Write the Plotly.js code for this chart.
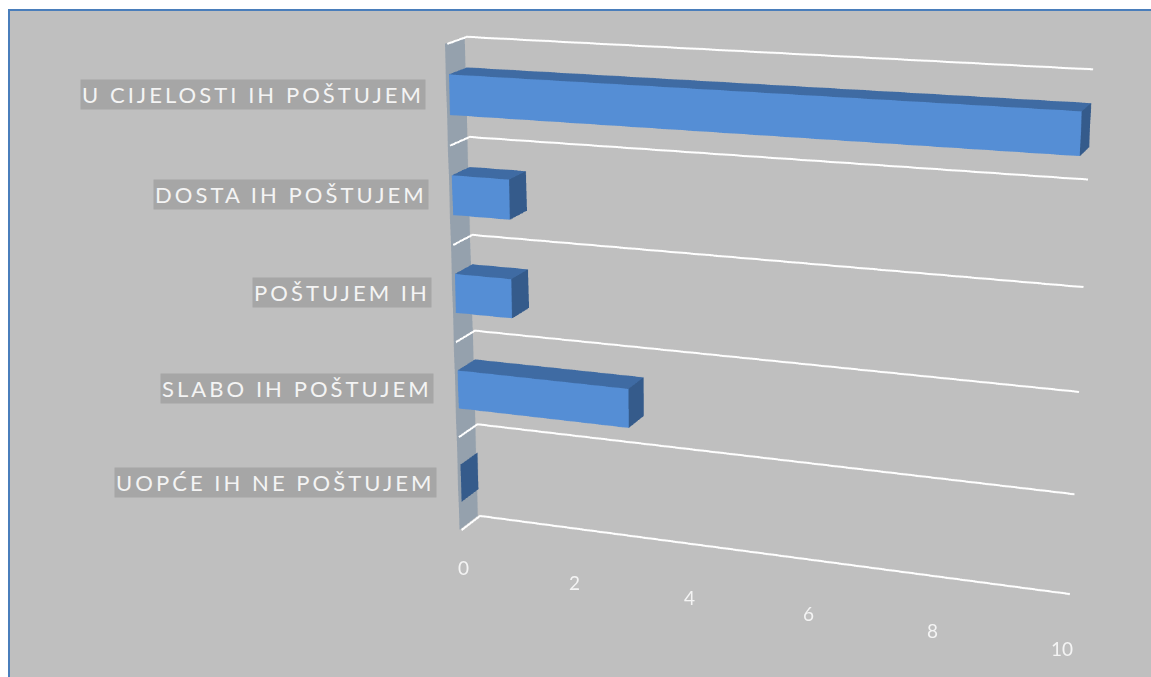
<!DOCTYPE html>
<html><head><meta charset="utf-8">
<script src="https://cdn.plot.ly/plotly-3.0.1.min.js"></script>
<style>
html,body{margin:0;padding:0;width:1151px;height:677px;overflow:hidden;background:#fff}
#bg{position:absolute;left:8px;top:9px;right:-2px;bottom:-2px;background:#bfbfbf;border:2px solid #4a7ebb;box-sizing:border-box}
#chart{position:absolute;left:-1151px;top:-677px;width:3453px;height:2031px}
.annotation-text{letter-spacing:3.05px}
</style></head><body>
<div id="bg"></div><div id="chart"></div>
<script>
var categories=["UOPĆE IH NE POŠTUJEM","SLABO IH POŠTUJEM","POŠTUJEM IH","DOSTA IH POŠTUJEM","U CIJELOSTI IH POŠTUJEM"];
var values=[0,3,1,1,10];
var valueTicks=[0,2,4,6,8,10];
var barLow=0.3,barHigh=0.7,depthLow=0.04,depthHigh=0.96;
var FRONT='#558ed5',TOP='#3f6ba3',END='#355b8b',WALL='#95a1ad',GRID='#ffffff',TEXT='#f4f4f4',LABELBG='#a6a6a6';

function box(x0,x1,y0,y1,z0,z1){
  var X=[],Y=[],Z=[],I=[],J=[],K=[],C=[];
  function quad(p,col){var n=X.length;p.forEach(function(q){X.push(q[0]);Y.push(q[1]);Z.push(q[2]);});
    I.push(n,n);J.push(n+1,n+2);K.push(n+2,n+3);C.push(col,col);}
  if(x1>x0){
    quad([[x0,y0,z0],[x1,y0,z0],[x1,y0,z1],[x0,y0,z1]],FRONT);
    quad([[x0,y0,z1],[x1,y0,z1],[x1,y1,z1],[x0,y1,z1]],TOP);
  }
  quad([[x1,y0,z0],[x1,y1,z0],[x1,y1,z1],[x1,y0,z1]],END);
  return {type:'mesh3d',x:X,y:Y,z:Z,i:I,j:J,k:K,facecolor:C,flatshading:true,hoverinfo:'skip',showscale:false,
    lighting:{ambient:1,diffuse:0,specular:0,fresnel:0,roughness:1},lightposition:{x:0,y:0,z:1000}};
}
var traces=[];
var wall=box(-0.04,-0.04,0,1,0,categories.length);
wall.facecolor=wall.facecolor.map(function(){return WALL;});
traces.push(wall);
values.forEach(function(v,i){traces.push(box(0,v,depthLow,depthHigh,i+barLow,i+barHigh));});
for(var k=0;k<=categories.length;k++){
  traces.push({type:'scatter3d',mode:'lines',x:[0,0,10],y:[0,1,1],z:[k,k,k],line:{color:GRID,width:4},hoverinfo:'skip',showlegend:false});
}
var ann=[];
categories.forEach(function(c,i){
  ann.push({x:0,y:0,z:i+0.5,text:c,showarrow:false,xanchor:'right',yanchor:'middle',xshift:-23,yshift:1,
    bgcolor:LABELBG,borderpad:1,font:{family:'Lato',size:22,color:TEXT}});
});
valueTicks.forEach(function(t){
  ann.push({x:t,y:0,z:0,text:'<span style="letter-spacing:0">'+t+'</span>',showarrow:false,xanchor:'center',yanchor:'middle',xshift:2,yshift:-37,
    font:{family:'Lato',size:19,color:TEXT}});
});
var hid={visible:false,showgrid:false,zeroline:false,showspikes:false,showbackground:false};
var layout={width:3453,height:2031,margin:{l:0,r:0,t:0,b:0},paper_bgcolor:'rgba(0,0,0,0)',showlegend:false,
  scene:{domain:{x:[0,1],y:[0,1]},bgcolor:'rgba(0,0,0,0)',aspectmode:'manual',aspectratio:{x:2.453,y:0.182,z:1.974},
    xaxis:Object.assign({range:[-0.1,10.1]},hid),yaxis:Object.assign({range:[-0.02,1.02]},hid),zaxis:Object.assign({range:[-0.02,5.02]},hid),
    camera:{eye:{x:2.8239,y:-8.4015,z:2.4619},center:{x:-0.6121,y:-0.2815,z:-0.0710},up:{x:-0.0867,y:0.2449,z:0.9604},projection:{type:'perspective'}},
    annotations:ann}};
Plotly.newPlot('chart',traces,layout,{displayModeBar:false,plotGlPixelRatio:1.5});
</script></body></html>
